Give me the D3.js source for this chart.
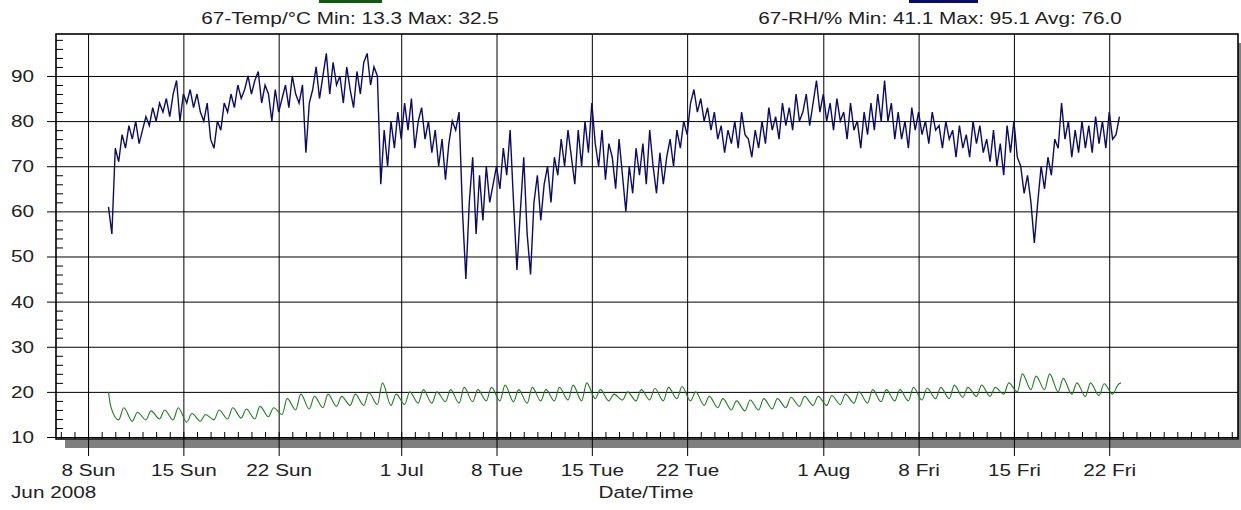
<!DOCTYPE html>
<html>
<head>
<meta charset="utf-8">
<script src="https://cdnjs.cloudflare.com/ajax/libs/d3/7.8.5/d3.min.js"></script>
<style>
body { margin: 0; background: #fff; }
svg text { font-family: "Liberation Sans", Arial, sans-serif; }
</style>
</head>
<body>
<svg></svg>
<script>
// tick labels
var yTicks = [10, 20, 30, 40, 50, 60, 70, 80, 90];
var yMinor = d3.range(12, 99, 2).filter(function(v) { return v % 10 != 0; });
var xTickDates = [new Date(2008,5,8), new Date(2008,5,15), new Date(2008,5,22), new Date(2008,6,1),
    new Date(2008,6,8), new Date(2008,6,15), new Date(2008,6,22), new Date(2008,7,1),
    new Date(2008,7,8), new Date(2008,7,15), new Date(2008,7,22)];
var xTickLabels = ["8 Sun", "15 Sun", "22 Sun", "1 Jul", "8 Tue", "15 Tue", "22 Tue", "1 Aug", "8 Fri", "15 Fri", "22 Fri"];
var titleTemp = "67-Temp/\u00b0C Min: 13.3 Max: 32.5";
var titleRH = "67-RH/% Min: 41.1 Max: 95.1 Avg: 76.0";

// RH %, one reading every 6 hours from 9 Jun 12:00 (one row per day)
var rhStart = new Date(2008,5,9,12);
var rhStepHours = 6;
var rh = [
    61, 55, 74, 71,
    77, 74, 79, 76,
    80, 75, 78, 81,
    79, 83, 80, 84,
    82, 85, 81, 86,
    89, 80, 86, 84,
    87, 83, 86, 82,
    80, 84, 76, 74,
    80, 78, 84, 82,
    86, 83, 88, 85,
    87, 90, 86, 89,
    91, 84, 88, 86,
    80, 87, 82, 85,
    88, 83, 90, 86,
    84, 88, 73, 84,
    87, 92, 85, 90,
    95, 86, 93, 88,
    90, 84, 92, 87,
    83, 91, 86, 93,
    95, 88, 92, 90,
    66, 78, 70, 80,
    74, 82, 76, 84,
    78, 85, 74, 80,
    83, 76, 80, 73,
    78, 70, 76, 67,
    75, 80, 78, 82,
    60, 45, 62, 72,
    55, 68, 58, 70,
    62, 66, 70, 65,
    74, 68, 78, 62,
    47, 60, 72, 55,
    46, 62, 68, 58,
    66, 70, 62, 72,
    68, 76, 70, 78,
    72, 66, 78, 70,
    80, 73, 84, 75,
    70, 78, 67, 75,
    72, 65, 76, 68,
    60, 70, 64, 74,
    68, 75, 66, 78,
    70, 64, 73, 66,
    72, 76, 70, 78,
    74, 80, 77, 84,
    87, 82, 85, 80,
    83, 78, 82, 76,
    79, 73, 78, 75,
    80, 74, 82, 77,
    76, 72, 78, 74,
    80, 75, 83, 78,
    81, 76, 84, 79,
    83, 78, 86, 80,
    82, 86, 79, 84,
    89, 82, 86, 80,
    84, 78, 85, 80,
    82, 76, 84, 78,
    80, 74, 82, 77,
    84, 78, 86, 80,
    89, 80, 84, 76,
    82, 76, 80, 74,
    83, 78, 82, 77,
    80, 75, 82, 78,
    79, 74, 80, 76,
    78, 72, 79, 74,
    77, 72, 80, 75,
    79, 73, 76, 71,
    78, 70, 75, 68,
    79, 73, 80, 72,
    70, 64, 68, 62,
    53, 62, 70, 65,
    72, 68, 76, 74,
    84, 76, 80, 72,
    78, 73, 80, 74,
    79, 73, 81, 75,
    80, 74, 82, 76,
    77, 81
];

// Temp degC: first readings on 9 Jun, then daily low (06:00) and high (15:00) from 10 Jun
var tempHead = [20, 16.8];
var tempFirstDay = new Date(2008,5,10);
var tempLow = [
    13.8, 13.5, 13.8, 14.0, 13.8, 13.3, 13.5, 13.8, 14.0, 14.2, 14.0, 14.5,
    15.0, 16.0, 16.2, 16.5, 16.8, 17.0, 17.0, 17.2, 17.0,
    17.2, 17.5, 17.5, 17.8, 17.5, 17.8, 18.0, 18.0, 17.8, 17.5, 18.0, 18.0, 18.2, 18.0,
    18.5, 18.0, 18.2, 18.0, 18.2, 18.0, 18.5, 18.0, 17.0, 16.5, 16.0, 15.8, 16.0, 16.2,
    16.5, 16.8, 17.0,
    17.0, 17.2, 17.5, 17.5, 17.8, 18.0, 18.0, 18.2, 18.5, 18.5, 18.8, 19.0, 19.0, 19.5,
    20.0, 20.5, 20.5, 20.0, 19.5, 19.0, 19.2, 19.5
];
var tempHigh = [
    16.5, 15.5, 15.8, 16.0, 16.5, 15.2, 15.0, 16.0, 16.5, 16.2, 16.8, 16.5,
    18.5, 19.5, 19.0, 19.5, 19.0, 19.5, 19.8, 22.0, 19.5,
    20.0, 20.5, 20.0, 20.5, 21.0, 20.5, 21.0, 21.5, 20.5, 21.0, 20.5, 21.0, 21.5, 22.0,
    20.5, 19.5, 20.0, 20.5, 20.8, 21.0, 21.2, 20.0, 19.0, 18.5, 18.0, 18.2, 18.5, 18.5,
    18.8, 19.0, 19.0,
    19.2, 19.5, 20.0, 20.5, 20.5, 20.5, 21.0, 20.8, 21.0, 21.5, 21.0, 21.5, 21.0, 22.0,
    24.0, 23.5, 24.0, 23.0, 22.0, 22.0, 21.8, 21.5
];
var tempLast = 22;

var width = 1241, height = 510;
var plot = {left: 56, right: 1238, top: 34, bottom: 439};
var sx = 1.22;
var textColor = "#222";

var svg = d3.select("svg")
    .attr("width", width)
    .attr("height", height);

svg.append("rect").attr("width", width).attr("height", height).attr("fill", "#fff");

var x = d3.scaleTime()
    .domain([new Date(2008,5,5,15,30), new Date(2008,7,31,11,0)])
    .range([plot.left, plot.right]);
var y = d3.scaleLinear()
    .domain([9.56, 99.3])
    .range([plot.bottom, plot.top]);

// drop shadow
svg.append("rect")
    .attr("x", plot.left + 9).attr("y", plot.bottom + 1)
    .attr("width", plot.right - plot.left).attr("height", 8)
    .attr("fill", "#7f7f7f");
svg.append("rect")
    .attr("x", plot.right).attr("y", plot.top + 9)
    .attr("width", 8).attr("height", plot.bottom - plot.top)
    .attr("fill", "#7f7f7f");

// grid
var gy = svg.append("g")
    .attr("transform", "translate(" + plot.left + ",0)")
    .call(d3.axisLeft(y).tickValues(yTicks).tickSize(-(plot.right - plot.left)).tickFormat(""));
var gx = svg.append("g")
    .attr("transform", "translate(0," + plot.bottom + ")")
    .call(d3.axisBottom(x).tickValues(xTickDates).tickSize(-(plot.bottom - plot.top)).tickFormat(""));
[gy, gx].forEach(function(g) {
    g.select(".domain").remove();
    g.selectAll("line").attr("stroke", "#000");
});

// series
var rhData = rh.map(function(v, i) {
    return {date: d3.timeHour.offset(rhStart, i * rhStepHours), value: v};
});
var tempData = [
    {date: new Date(2008,5,9,12), value: tempHead[0]},
    {date: new Date(2008,5,9,16), value: tempHead[1]}
];
tempLow.forEach(function(v, i) {
    var day = d3.timeDay.offset(tempFirstDay, i);
    tempData.push({date: d3.timeHour.offset(day, 6), value: v});
    tempData.push({date: d3.timeHour.offset(day, 15), value: tempHigh[i]});
});
tempData.push({date: new Date(2008,7,22,21), value: tempLast});

svg.append("path")
    .datum(tempData)
    .attr("fill", "none")
    .attr("stroke", "#1f7f1f")
    .attr("stroke-width", 1.1)
    .attr("d", d3.line()
        .curve(d3.curveMonotoneX)
        .x(function(d) { return x(d.date) })
        .y(function(d) { return y(d.value) }));

svg.append("path")
    .datum(rhData)
    .attr("fill", "none")
    .attr("stroke", "#0b0b6b")
    .attr("stroke-width", 1.4)
    .attr("d", d3.line()
        .x(function(d) { return x(d.date) })
        .y(function(d) { return y(d.value) }));

// minor ticks
svg.append("g")
    .attr("transform", "translate(" + plot.left + ",0)")
    .call(d3.axisRight(y).tickValues(yMinor).tickSize(7).tickFormat(""))
    .call(function(g) { g.select(".domain").remove(); g.selectAll("line").attr("stroke", "#000"); });
svg.append("g")
    .attr("transform", "translate(0," + plot.bottom + ")")
    .call(d3.axisTop(x).ticks(d3.timeDay).tickSize(7).tickFormat(""))
    .call(function(g) { g.select(".domain").remove(); g.selectAll("line").attr("stroke", "#000"); });

// frame
svg.append("rect")
    .attr("x", plot.left).attr("y", plot.top)
    .attr("width", plot.right - plot.left).attr("height", plot.bottom - plot.top)
    .attr("fill", "none")
    .attr("stroke", "#000")
    .attr("stroke-width", 1.6);

// axes with labels
var yAxis = svg.append("g")
    .attr("transform", "translate(" + plot.left + ",0)")
    .call(d3.axisLeft(y).tickValues(yTicks).tickSize(9).tickPadding(13));
var xAxis = svg.append("g")
    .attr("transform", "translate(0," + plot.bottom + ")")
    .call(d3.axisBottom(x).tickValues(xTickDates).tickSize(17).tickPadding(8)
        .tickFormat(function(d, i) { return xTickLabels[i]; }));
[yAxis, xAxis].forEach(function(g) {
    g.attr("font-size", 17).attr("font-family", null);
    g.select(".domain").remove();
    g.selectAll("line").attr("stroke", "#000");
    g.selectAll("text").attr("fill", textColor).attr("transform", "scale(" + sx + ",1)");
});
yAxis.selectAll("text").attr("x", -22 / sx);

function label(str, px, py, anchor) {
    svg.append("text")
        .attr("transform", "translate(" + px + "," + py + ") scale(" + sx + ",1)")
        .attr("text-anchor", anchor)
        .attr("font-size", 17)
        .attr("fill", textColor)
        .text(str);
}
label(titleTemp, 350, 24, "middle");
label(titleRH, 940, 24, "middle");
label("Jun 2008", 11, 498, "start");
label("Date/Time", 646, 498, "middle");

// legend swatches, cut by the top edge
svg.append("rect").attr("x", 319).attr("y", -2).attr("width", 63).attr("height", 5).attr("fill", "#0f5a0f");
svg.append("rect").attr("x", 909).attr("y", -2).attr("width", 69).attr("height", 5).attr("fill", "#0b0b6b");
</script>
</body>
</html>
